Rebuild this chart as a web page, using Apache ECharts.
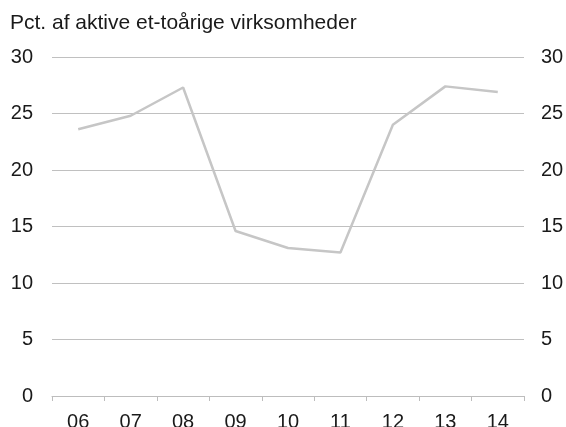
<!DOCTYPE html>
<html>
<head>
<meta charset="utf-8">
<script src="https://cdn.jsdelivr.net/npm/echarts@6/dist/echarts.min.js"></script>
<style>
  html, body { margin: 0; padding: 0; background: #fff; }
  #main { width: 566px; height: 427px; }
</style>
</head>
<body>
<div id="main"></div>
<script>
// årstal (x-akse)
const years = ['06', '07', '08', '09', '10', '11', '12', '13', '14']
// andel aktive et-toårige virksomheder, pct.
const share = [23.6, 24.8, 27.3, 14.6, 13.1, 12.7, 24.0, 27.4, 26.9]
const yMin = 0
const yMax = 30
const yStep = 5

const font = '"Liberation Sans", Arial, sans-serif'
const gray = '#c6c6c6'

const chartDom = document.getElementById('main')
const myChart = echarts.init(chartDom)

const yAxisBase = {
  type: 'value',
  min: yMin,
  max: yMax,
  interval: yStep,
  axisLine: { show: false },
  axisTick: { show: false },
  splitLine: { show: true, lineStyle: { color: '#c0c0c0', width: 1 } }
}

const option = {
  animation: false,
  backgroundColor: '#fff',
  title: {
    text: 'Pct. af aktive et-toårige virksomheder',
    left: 5,
    top: 8,
    textStyle: { fontFamily: font, fontSize: 21, fontWeight: 'normal', color: '#1a1a1a' }
  },
  grid: { left: 52, right: 42, top: 57, bottom: 31, containLabel: false, outerBoundsMode: 'none' },
  xAxis: {
    type: 'category',
    data: years,
    boundaryGap: true,
    axisLine: { show: true, lineStyle: { color: '#bdbdbd', width: 1 } },
    axisTick: { show: true, length: 5, alignWithLabel: false, lineStyle: { color: '#bdbdbd' } },
    axisLabel: { margin: 16, fontFamily: font, fontSize: 20, color: '#1a1a1a' }
  },
  yAxis: [
    Object.assign({}, yAxisBase, {
      position: 'left',
      axisLabel: { margin: 19, fontFamily: font, fontSize: 20, color: '#1a1a1a' }
    }),
    Object.assign({}, yAxisBase, {
      position: 'right',
      splitLine: { show: false },
      axisLabel: { align: 'left', margin: 17, fontFamily: font, fontSize: 20, color: '#1a1a1a' }
    })
  ],
  series: [
    {
      type: 'line',
      data: share,
      yAxisIndex: 0,
      symbol: 'none',
      lineStyle: { color: gray, width: 2.5 }
    }
  ]
}
myChart.setOption(option)
</script>
</body>
</html>
